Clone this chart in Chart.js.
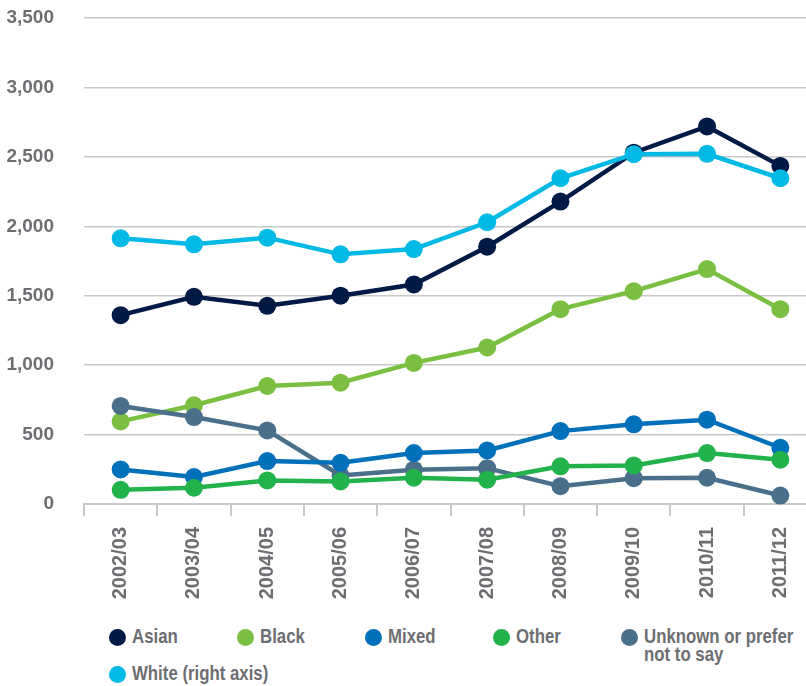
<!DOCTYPE html>
<html>
<head>
<meta charset="utf-8">
<script src="https://cdn.jsdelivr.net/npm/chart.js@4"></script>
<style>
  html, body { margin: 0; padding: 0; background: #fff; overflow: hidden; }
  body { width: 806px; height: 686px; position: relative; }
  #chart-wrap { position: absolute; left: 0; top: 0; width: 817px; height: 610px; }
  #legend {
    position: absolute; left: 109px; top: 627px; width: 697px;
    display: flex; flex-wrap: wrap;
    font-family: "Liberation Sans", Arial, sans-serif;
    font-weight: bold; font-size: 20px; color: #6d6e71;
  }
  .item { width: 128px; height: 37px; display: flex; align-items: flex-start; }
  .dot { width: 17px; height: 17px; border-radius: 50%; flex: none; margin-top: 2px; margin-right: 6px; }
  .txt { line-height: 18px; white-space: nowrap; display: inline-block; transform: scaleX(0.84); transform-origin: left top; }
</style>
</head>
<body>
<div id="chart-wrap"><canvas id="ethnicity-chart"></canvas></div>
<div id="legend"></div>
<script>
/* Data */
const years = ['2002/03', '2003/04', '2004/05', '2005/06', '2006/07',
               '2007/08', '2008/09', '2009/10', '2010/11', '2011/12'];
const asian   = [1360, 1492, 1427, 1500, 1581, 1853, 2178, 2530, 2719, 2435];
const black   = [595, 711, 850, 874, 1016, 1127, 1403, 1533, 1692, 1403];
const mixed   = [249, 194, 309, 297, 367, 386, 525, 574, 607, 405];
const other   = [102, 117, 170, 162, 189, 175, 271, 278, 367, 319];
const unknown = [706, 626, 530, 205, 247, 258, 128, 186, 189, 61];
const white   = [1913, 1870, 1918, 1798, 1836, 2029, 2346, 2519, 2522, 2346];
const yTicks  = [0, 500, 1000, 1500, 2000, 2500, 3000, 3500];

const seriesNames  = ['Asian', 'Black', 'Mixed', 'Other', 'Unknown or prefer|not to say', 'White (right axis)'];
const seriesColors = ['#001a45', '#7bbf42', '#0070bb', '#21b24b', '#4a6f8a', '#00b9e4'];
const seriesData   = [asian, black, mixed, other, unknown, white];
// lower number = drawn on top
const drawOrder    = [1, 5, 3, 2, 4, 0];

const tickColor = '#6d6e71';
const gridColor = '#c9c9c9';

/* Build the datasets */
function makeDatasets() {
    return seriesData.map((values, i) => ({
        label: seriesNames[i].replace('|', ' '),
        data: values,
        borderColor: seriesColors[i],
        backgroundColor: seriesColors[i],
        borderWidth: 4.5,
        pointRadius: 9,
        pointHoverRadius: 9,
        pointBorderWidth: 0,
        tension: 0,
        clip: false,
        order: drawOrder[i]
    }));
}

/* Init the chart */
function initChart() {
    const ctx = document.getElementById('ethnicity-chart');
    return new Chart(ctx, {
        type: 'line',
        data: { labels: years, datasets: makeDatasets() },
        options: {
            responsive: true,
            maintainAspectRatio: false,
            animation: false,
            layout: { autoPadding: false, padding: { left: 0, right: 0, top: 18, bottom: 0 } },
            plugins: { legend: { display: false }, tooltip: { enabled: false } },
            scales: {
                x: {
                    type: 'category',
                    offset: true,
                    grid: {
                        offset: true,
                        drawOnChartArea: false,
                        drawTicks: true,
                        tickLength: 12,
                        color: gridColor,
                        lineWidth: 2
                    },
                    border: { display: true, color: gridColor, width: 2 },
                    ticks: {
                        minRotation: 90,
                        maxRotation: 90,
                        padding: 11,
                        color: tickColor,
                        font: { family: '"Liberation Sans", Arial, sans-serif', size: 20, weight: 'bold' }
                    },
                    afterFit: (scale) => { scale.height = 106; }
                },
                y: {
                    min: 0,
                    max: 3500,
                    afterBuildTicks: (scale) => { scale.ticks = yTicks.map(v => ({ value: v })); },
                    grid: { drawTicks: false, color: gridColor, lineWidth: 1.5 },
                    border: { display: false },
                    ticks: {
                        padding: 30,
                        color: tickColor,
                        font: { family: '"Liberation Sans", Arial, sans-serif', size: 19, weight: 'bold' },
                        callback: (v) => v.toLocaleString('en-US')
                    },
                    afterFit: (scale) => { scale.width = 84; scale.paddingTop = 0; scale.paddingBottom = 0; }
                }
            }
        }
    });
}

/* HTML legend, built from the same series arrays */
function buildLegend() {
    const legend = document.getElementById('legend');
    seriesNames.forEach((name, i) => {
        const item = document.createElement('div');
        item.className = 'item';
        const dot = document.createElement('span');
        dot.className = 'dot';
        dot.style.background = seriesColors[i];
        const txt = document.createElement('span');
        txt.className = 'txt';
        name.split('|').forEach((part, j) => {
            if (j > 0) txt.appendChild(document.createElement('br'));
            txt.appendChild(document.createTextNode(part));
        });
        item.appendChild(dot);
        item.appendChild(txt);
        legend.appendChild(item);
    });
}

buildLegend();
const chart = initChart();
</script>
</body>
</html>
